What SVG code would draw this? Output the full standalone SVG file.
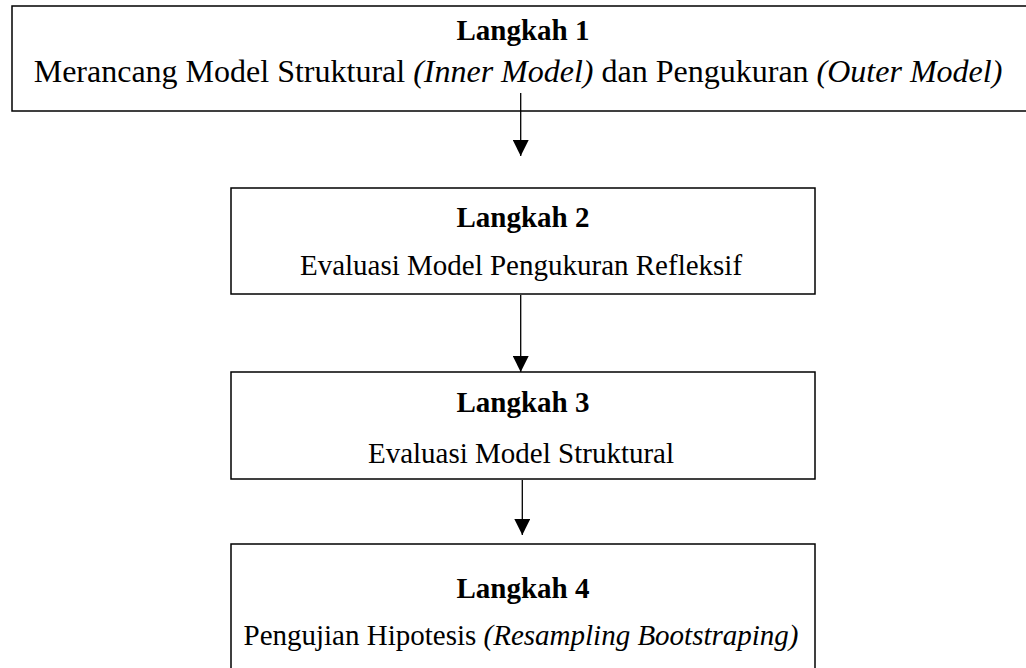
<svg xmlns="http://www.w3.org/2000/svg" width="1026" height="668" viewBox="0 0 1026 668">
<defs>
<marker id="ah" markerWidth="16" markerHeight="16" viewBox="0 0 16 16" refX="16" refY="8" orient="auto" markerUnits="userSpaceOnUse">
<path d="M0,0 L16,8 L0,16 Z" fill="#000"/>
</marker>
<style>
.box{fill:#fff;stroke:#000;stroke-width:1.5}
.t{font-family:"Liberation Serif","Times New Roman",serif;font-size:29px;fill:#000;text-anchor:middle}
.b{font-weight:bold}
.i{font-style:italic}
.c{stroke:#000;stroke-width:1.3;fill:none}
</style>
</defs>
<rect width="1026" height="668" fill="#fff"/>
<g id="node1">
<rect class="box" x="12" y="6" width="1030" height="105"/>
<text class="t b" x="523" y="40">Langkah 1</text>
<text class="t" x="518" y="82" style="font-size:32px">Merancang Model Struktural <tspan class="i">(Inner Model)</tspan> dan Pengukuran <tspan class="i">(Outer Model)</tspan></text>
</g>
<g id="node2">
<rect class="box" x="231" y="188" width="584" height="106"/>
<text class="t b" x="523" y="227">Langkah 2</text>
<text class="t" x="521" y="275">Evaluasi Model Pengukuran Refleksif</text>
</g>
<g id="node3">
<rect class="box" x="231" y="372" width="584" height="107"/>
<text class="t b" x="523" y="412">Langkah 3</text>
<text class="t" x="521" y="463">Evaluasi Model Struktural</text>
</g>
<g id="node4">
<rect class="box" x="231" y="544" width="584" height="140"/>
<text class="t b" x="523" y="598">Langkah 4</text>
<text class="t" x="521" y="645">Pengujian Hipotesis <tspan class="i">(Resampling Bootstraping)</tspan></text>
</g>
<g id="connectors">
<line class="c" x1="520.7" y1="93" x2="520.7" y2="156" marker-end="url(#ah)"/>
<line class="c" x1="520.7" y1="295" x2="520.7" y2="372" marker-end="url(#ah)"/>
<line class="c" x1="522.3" y1="480" x2="522.3" y2="535" marker-end="url(#ah)"/>
</g>
</svg>
